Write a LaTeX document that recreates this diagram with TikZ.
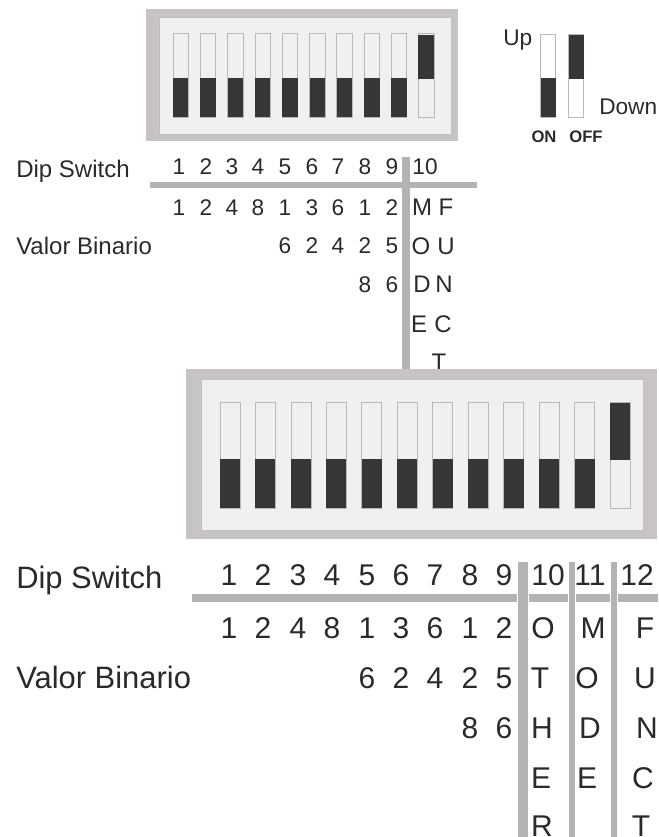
\documentclass[tikz,border=0pt]{standalone}
\usepackage{fontspec}
\setmainfont{Liberation Sans}
\usepackage{tikz}
\usetikzlibrary{positioning,calc}

\definecolor{casegray}{HTML}{C8C3C5}
\definecolor{panelgray}{HTML}{F1F0F1}
\definecolor{leverdark}{HTML}{383536}
\definecolor{slotedge}{HTML}{B9B7B8}
\definecolor{rulegray}{HTML}{B3B3B3}
\definecolor{inkgray}{HTML}{2A2A2A}

\tikzset{
  smalltxt/.style={inner sep=0pt, anchor=base, text=inkgray, font=\fontsize{17pt}{20pt}\selectfont},
  smallcap/.style={inner sep=0pt, anchor=base, text=inkgray, font=\fontsize{18pt}{21pt}\selectfont},
  bigtxt/.style={inner sep=0pt, anchor=base, text=inkgray, font=\fontsize{22.5pt}{26pt}\selectfont},
  bighead/.style={inner sep=0pt, anchor=base west, text=inkgray, font=\fontsize{23.2pt}{27pt}\selectfont},
  tagtxt/.style={inner sep=0pt, anchor=base, text=inkgray, font=\fontsize{12.5pt}{15pt}\selectfont\bfseries},
  casebox/.style={fill=casegray, draw=none},
  panelbox/.style={fill=panelgray, draw=black!25, line width=0.5pt},
  slotbox/.style={fill=panelgray, draw=slotedge, line width=0.6pt},
  leverbox/.style={fill=leverdark, draw=none},
  rulebar/.style={draw=rulegray, line cap=butt},
}

\begin{document}
\begin{tikzpicture}[x=0.75pt,y=-0.75pt]
  \useasboundingbox (0,0) rectangle (658,837);

  % Upper table
  \draw[rulebar, line width=5.2pt] (150,185) -- (477,185);
  \draw[rulebar, line width=5.4pt] (406,157) -- (406,372);
  \node[smallcap, anchor=base west] (dipA) at (16,178) {Dip Switch};
  \node[smallcap, anchor=base west] (valorA) at (16,255) {Valor Binario};
  \foreach \n/\x/\lab in {1/179/1, 2/206/2, 3/232/3, 4/258/4, 5/285/5, 6/312/6, 7/338/7, 8/365/8, 9/392/9, 10/425/10} {
    \node[smalltxt] (numA\n) at (\x,175) {\lab};
  }
  \foreach \n/\x/\y/\lab in {1/179/216/1, 2/206/216/2, 3/232/216/4, 4/258/216/8, 5/285/216/1, 6/312/216/3, 7/338/216/6, 8/365/216/1, 9/392/216/2,
      10/285/254/6, 11/312/254/2, 12/338/254/4, 13/365/254/2, 14/392/254/5, 15/365/293/8, 16/392/293/6} {
    \node[smalltxt] (binA\n) at (\x,\y) {\lab};
  }
  \foreach \n/\x/\y/\lab in {1/422/216/M, 2/446/216/F, 3/421/255/O, 4/446/255/U, 5/422/293/D, 6/444/293/N, 7/419/332/E, 8/443/332/C, 9/439/370/T} {
    \node[smallcap] (letA\n) at (\x,\y) {\lab};
  }

  % Upper switch
  \draw[casebox] (146,9) rectangle (458,141);
  \draw[panelbox] (159,17) rectangle (451,134);
  \foreach \i in {0,...,9} {
    \draw[slotbox] ({180.7+27.3*\i-7.7},33) rectangle ({180.7+27.3*\i+7.7},117);
  }
  \foreach \i in {0,...,8} {
    \draw[leverbox] ({180.7+27.3*\i-7.7},78) rectangle ({180.7+27.3*\i+7.7},117);
  }
  \draw[leverbox] (418,35) rectangle (433.5,79);

  % Up / Down legend
  \draw[slotbox, fill=white] (540.5,34) rectangle (555.5,117);
  \draw[slotbox, fill=white] (568.5,34) rectangle (583.5,117);
  \draw[leverbox] (540.5,78) rectangle (556,117);
  \draw[leverbox] (568.5,35) rectangle (583.5,79);
  \node[smalltxt, anchor=base west] (upLab) at (503,46) {Up};
  \node[smalltxt, anchor=base west] (downLab) at (599,115) {Down};
  \node[tagtxt] (onLab) at (544,143) {ON};
  \node[tagtxt] (offLab) at (586,143) {OFF};

  % Lower table
  \draw[rulebar, line width=5.5pt] (192,598) -- (658,598);
  \foreach \x/\w in {523/6.8, 572/5.2, 614/5.2} {
    \draw[draw=white, line width=\w pt+1.5pt] (\x,590) -- (\x,606);
    \draw[rulebar, line width=\w pt] (\x,562) -- (\x,837);
  }
  \node[bighead] (dipB) at (16,588) {Dip Switch};
  \node[bighead] (valorB) at (16,688) {Valor Binario};
  \foreach \n/\x/\lab in {1/229/1, 2/263/2, 3/298/3, 4/332/4, 5/367/5, 6/401/6, 7/435/7, 8/470/8, 9/504/9, 10/548/10, 11/590/11, 12/637/12} {
    \node[bigtxt] (numB\n) at (\x,585) {\lab};
  }
  \foreach \n/\x/\y/\lab in {1/229/638/1, 2/263/638/2, 3/298/638/4, 4/332/638/8, 5/367/638/1, 6/401/638/3, 7/435/638/6, 8/470/638/1, 9/504/638/2,
      10/367/688/6, 11/401/688/2, 12/435/688/4, 13/470/688/2, 14/504/688/5, 15/470/738/8, 16/504/738/6} {
    \node[bigtxt] (binB\n) at (\x,\y) {\lab};
  }
  \foreach \n/\x/\y/\lab in {1/543/638/O, 2/540/688/T, 3/542/738/H, 4/541/788/E, 5/542/836/R,
      6/593/638/M, 7/587/688/O, 8/590/738/D, 9/587/788/E,
      10/645/638/F, 11/645/688/U, 12/647/738/N, 13/643/788/C, 14/641/836/T} {
    \node[bigtxt] (letB\n) at (\x,\y) {\lab};
  }

  % Lower switch
  \draw[casebox] (186,369) rectangle (657,539);
  \draw[panelbox] (201,379) rectangle (643,530);
  \foreach \i in {0,...,11} {
    \draw[slotbox] ({230+35.45*\i-10},402) rectangle ({230+35.45*\i+10},508);
  }
  \foreach \i in {0,...,10} {
    \draw[leverbox] ({230+35.45*\i-10},459) rectangle ({230+35.45*\i+10},508);
  }
  \draw[leverbox] (610,403) rectangle (630,460);
\end{tikzpicture}
\end{document}
